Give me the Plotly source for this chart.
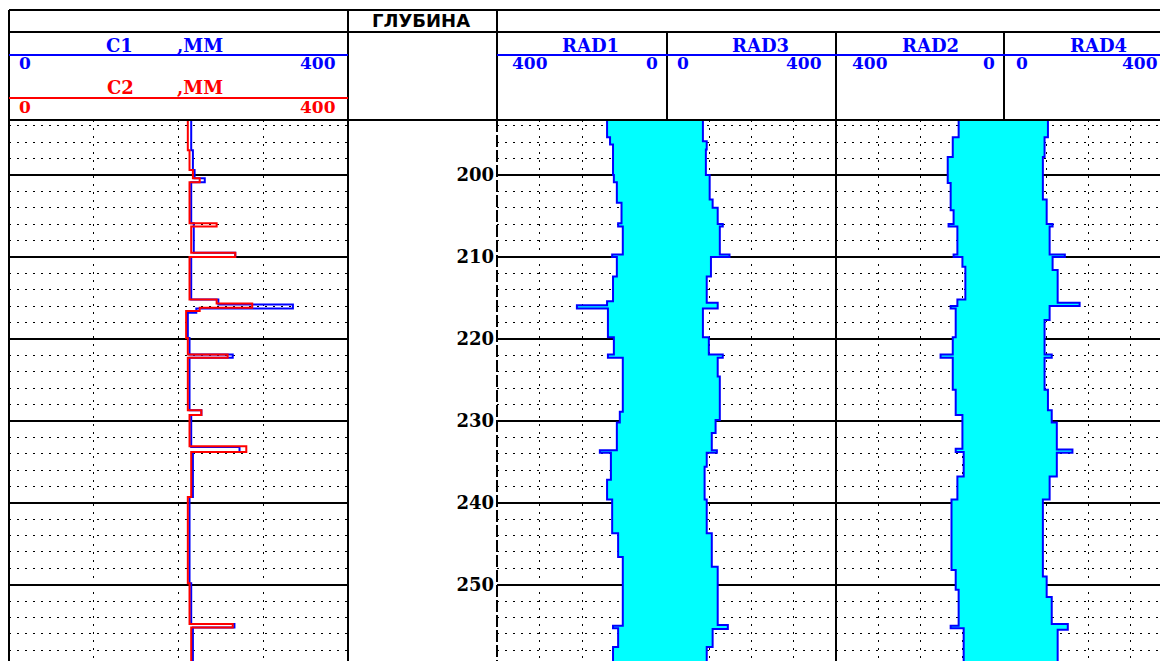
import plotly.graph_objects as go

W, H = 1160, 661

# ---------------- data (depth in m, values in mm) ----------------
# each value holds from its depth down to the next depth
c1_depth = [193.3, 197.0, 199.4, 200.4, 200.9, 205.9, 206.3, 209.5, 210.0, 215.2, 215.8, 216.3,
            216.8, 219.9, 221.9, 222.3, 228.7, 229.3, 233.2, 233.8, 239.3, 249.8, 254.8, 255.2, 259.3]
c1_value = [215, 217, 219, 231, 215, 218, 218, 267, 215, 247, 335, 221,
            211, 213, 264, 213, 227, 215, 272, 217, 213, 215, 266, 217, 217]

c2_depth = [193.3, 197.0, 199.4, 200.4, 200.9, 205.9, 206.3, 209.5, 210.0, 215.2, 215.7, 216.2,
            216.6, 219.9, 221.9, 222.3, 228.7, 229.3, 233.1, 233.8, 239.3, 249.8, 254.8, 255.2, 259.3]
c2_value = [211, 213, 217, 225, 213, 245, 215, 267, 213, 245, 287, 225,
            209, 211, 258, 211, 227, 213, 280, 215, 211, 213, 264, 215, 215]

rad1_depth = [193.3, 195.4, 196.3, 200.0, 200.9, 203.4, 205.9, 206.3, 209.7, 210.0, 212.4, 215.4,
              215.9, 216.3, 219.8, 221.9, 222.3, 228.9, 230.2, 233.6, 233.9, 237.2, 239.6, 243.7,
              246.6, 255.0, 255.3, 257.6, 259.3]
rad1_value = [141, 134, 127, 125, 118, 107, 115, 104, 129, 118, 127, 141,
              212, 139, 125, 139, 104, 111, 118, 158, 132, 141, 129, 115,
              104, 127, 115, 127, 127]

rad3_depth = [193.3, 195.9, 196.9, 200.0, 203.0, 204.0, 206.0, 206.3, 209.7, 210.0, 212.4, 215.6,
              216.3, 219.8, 221.9, 222.3, 224.6, 229.9, 231.5, 233.6, 233.9, 235.6, 239.6, 243.7,
              247.8, 254.9, 255.4, 257.6, 259.3]
rad3_value = [85, 94, 92, 101, 108, 120, 132, 125, 148, 104, 94, 120,
              85, 99, 132, 120, 125, 115, 106, 118, 94, 89, 94, 106,
              120, 144, 108, 94, 94]

rad2_depth = [193.3, 195.4, 197.8, 201.0, 204.3, 206.0, 206.3, 209.7, 210.0, 211.2, 215.2, 216.0,
              216.3, 219.8, 221.9, 222.3, 226.2, 229.3, 233.4, 233.8, 236.8, 239.6, 248.2, 250.6,
              255.0, 255.3, 259.3]
rad2_value = [108, 122, 134, 127, 120, 132, 111, 120, 99, 92, 111, 127,
              115, 122, 151, 122, 115, 99, 115, 96, 111, 125, 115, 108,
              127, 96, 96]

rad4_depth = [193.3, 195.4, 197.8, 203.0, 206.0, 206.3, 209.7, 210.0, 211.6, 215.6, 216.0, 217.7,
              221.9, 222.3, 226.2, 228.7, 230.2, 233.5, 233.9, 236.8, 239.6, 249.0, 251.5, 254.8,
              255.5, 259.3]
rad4_value = [104, 96, 92, 101, 115, 108, 144, 115, 127, 179, 108, 96,
              113, 96, 104, 113, 125, 162, 125, 108, 92, 101, 113, 151,
              127, 127]

depth_ticks = [200, 210, 220, 230, 240, 250]
depth_range = [259.3, 193.3]

BLUE = "#0000FF"
RED = "#FF0000"
CYAN = "#00FFFF"

def px(x):
    return x / W

def py(y):
    return 1 - y / H

fig = go.Figure()

# caliper curves
fig.add_trace(go.Scatter(x=c1_value, y=c1_depth, xaxis="x", yaxis="y", mode="lines",
                         line=dict(color=BLUE, width=2, shape="vh"), name="C1"))
fig.add_trace(go.Scatter(x=c2_value, y=c2_depth, xaxis="x", yaxis="y", mode="lines",
                         line=dict(color=RED, width=2, shape="vh"), name="C2"))

# radius curves filled to zero (borehole axis)
for xa, d, v, nm in [("x3", rad1_depth, rad1_value, "RAD1"),
                     ("x4", rad3_depth, rad3_value, "RAD3"),
                     ("x5", rad2_depth, rad2_value, "RAD2"),
                     ("x6", rad4_depth, rad4_value, "RAD4")]:
    fig.add_trace(go.Scatter(x=v, y=d, xaxis=xa, yaxis="y", mode="lines", fill="tozerox",
                             fillcolor=CYAN, line=dict(color=BLUE, width=2, shape="vh"), name=nm))

GRIDDOT = "2px,6px"

def xax(x0, x1, rng):
    return dict(domain=[x0 / W, min(x1 / W, 1)], range=rng, anchor="y", showticklabels=False,
                ticks="", zeroline=False, showline=False, showgrid=True, tick0=0, dtick=100,
                gridcolor="black", gridwidth=1, griddash=GRIDDOT, fixedrange=True)

fig.update_layout(
    width=W, height=H, margin=dict(l=0, r=0, t=0, b=0),
    paper_bgcolor="white", plot_bgcolor="rgba(0,0,0,0)", showlegend=False,
    xaxis=xax(9, 348, [0, 400]),
    xaxis3=xax(497, 667, [400, 0]),
    xaxis4=xax(667, 836, [0, 400]),
    xaxis5=xax(836, 1004, [400, 0]),
    xaxis6=xax(1004, 1160, [0, 400 * (1160 - 1004) / 169]),
    yaxis=dict(domain=[0, py(120)], range=depth_range, anchor="free", position=497 / W,
               side="left", tickmode="array", tickvals=depth_ticks,
               ticktext=[str(t) for t in depth_ticks], ticks="", showline=False,
               zeroline=False, showgrid=True, gridcolor="black", gridwidth=2,
               ticklabelstandoff=3,
               minor=dict(tick0=200, dtick=2, showgrid=True, gridcolor="black",
                          gridwidth=1, griddash=GRIDDOT),
               tickfont=dict(family="DejaVu Serif", size=18, color="black", weight="bold"),
               fixedrange=True),
)

shapes = []

def hline(y, x0, x1, color="black", width=2, layer="above"):
    shapes.append(dict(type="line", xref="paper", yref="paper", x0=px(x0), x1=px(x1),
                       y0=py(y), y1=py(y), line=dict(color=color, width=width), layer=layer))

def vline(x, y0, y1, color="black", width=2, layer="above", dash="solid"):
    shapes.append(dict(type="line", xref="paper", yref="paper", x0=px(x), x1=px(x),
                       y0=py(y0), y1=py(y1), line=dict(color=color, width=width, dash=dash),
                       layer=layer))

# header frame
hline(10, 9, 1160)
hline(32, 9, 1160)
hline(120, 9, 1160)
vline(9, 10, 661)
vline(348, 10, 120)
vline(497, 10, 120)
for xb in (667, 836, 1004):
    vline(xb, 32, 120)
# data region borders (below traces so the fill hides them)
vline(348, 120, 661, layer="below")
vline(497, 120, 661, layer="below", dash="12px,3px")
for xb in (667, 836, 1004):
    vline(xb, 120, 661, layer="below")
# scale lines in the header
hline(55, 9, 348, color=BLUE)
hline(98, 9, 348, color=RED)
hline(55, 497, 1160, color=BLUE)

fig.update_layout(shapes=shapes)

ann = []

def text(x, y, s, color, size=17, family="DejaVu Serif"):
    ann.append(dict(xref="paper", yref="paper", x=px(x), y=py(y), text=s, showarrow=False,
                    xanchor="center", yanchor="middle",
                    font=dict(family=family, size=size, color=color, weight="bold")))

text(421, 21, "ГЛУБИНА", "black", size=18, family="DejaVu Sans")
text(119, 45, "C1", BLUE, size=18)
text(200, 45, ",ММ", BLUE, size=18)
text(25, 63, "0", BLUE)
text(318, 63, "400", BLUE)
text(120, 88, "C2", RED, size=18)
text(200, 88, ",ММ", RED, size=18)
text(25, 107, "0", RED)
text(318, 107, "400", RED)

for cx, name in [(590, "RAD1"), (760, "RAD3"), (930, "RAD2"), (1098, "RAD4")]:
    text(cx, 45, name, BLUE, size=18)
for cx, s in [(530, "400"), (652, "0"), (683, "0"), (804, "400"),
              (870, "400"), (989, "0"), (1022, "0"), (1140, "400")]:
    text(cx, 63, s, BLUE)

fig.update_layout(annotations=ann)

fig.write_html("out.html")
